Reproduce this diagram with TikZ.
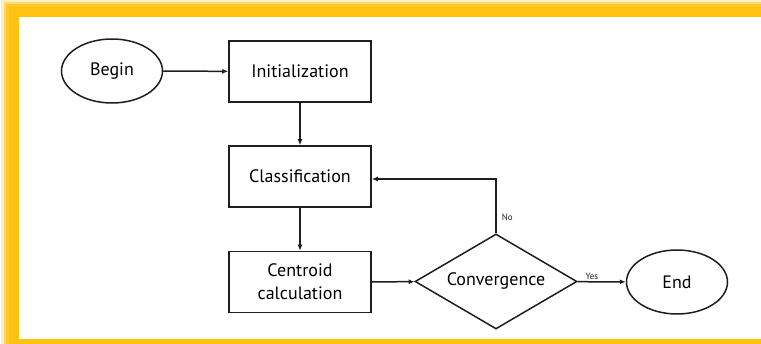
\documentclass[tikz,border=0pt]{standalone}
\usepackage{fontspec}
\setmainfont{PT Sans}
\usetikzlibrary{shapes.geometric,arrows.meta}
\definecolor{frameyellow}{HTML}{FFC20E}
\definecolor{ink}{HTML}{1E1E1E}
\tikzset{
  flowline/.style={draw=ink, line width=1.5pt},
  flowarrow/.style={flowline, -{Latex[length=6pt,width=5pt]}},
  termnode/.style={ellipse, draw=ink, line width=1.5pt, minimum width=101pt, minimum height=64pt, inner sep=0pt, font=\fontsize{18}{20}\selectfont},
  procbox/.style={rectangle, draw=ink, line width=1.5pt, minimum width=142pt, minimum height=61pt, inner sep=0pt, align=center, font=\fontsize{18}{23}\selectfont},
  decnode/.style={diamond, draw=ink, line width=1.5pt, minimum width=162pt, minimum height=95pt, inner sep=0pt, aspect=1.7, font=\fontsize{18}{20}\selectfont},
  smalllabel/.style={font=\fontsize{9}{10}\selectfont, text=ink, inner sep=1pt}
}
\begin{document}
\begin{tikzpicture}[x=1pt,y=-1pt]
\useasboundingbox (0,0) rectangle (761,344);
% frame with soft glow
\fill[white] (0,0) rectangle (761,344);
\fill[frameyellow, opacity=0.25] (1,0) rectangle (761,344);
\fill[frameyellow, opacity=0.45] (4,2) rectangle (761,344);
\fill[frameyellow, opacity=0.7] (6,4) rectangle (761,344);
\fill[frameyellow] (9,7) rectangle (761,344);
\fill[white] (19,17) rectangle (761,339);
% nodes
\node[termnode] (begin) at (112,71) {Begin};
\node[procbox] (init) at (300,71.5) {Initialization};
\node[procbox] (class) at (300,176.5) {Classification};
\node[procbox] (cent) at (300,282) {Centroid\\calculation};
\node[decnode] (conv) at (496,281.5) {Convergence};
\node[termnode] (end) at (677,282) {End};
\coordinate (turn) at (496,179);
% connectors
\draw[flowarrow] (begin) -- (init);
\draw[flowarrow] (init) -- (class);
\draw[flowarrow] (class) -- (cent);
\draw[flowarrow] (cent) -- (conv);
\draw[flowarrow] (conv) -- node[smalllabel, above, pos=0.3] {Yes} (end);
\draw[flowarrow] (conv.north) -- node[smalllabel, right, pos=0.3, xshift=4pt] {No} (turn) -- (turn -| class.east);
\end{tikzpicture}
\end{document}
